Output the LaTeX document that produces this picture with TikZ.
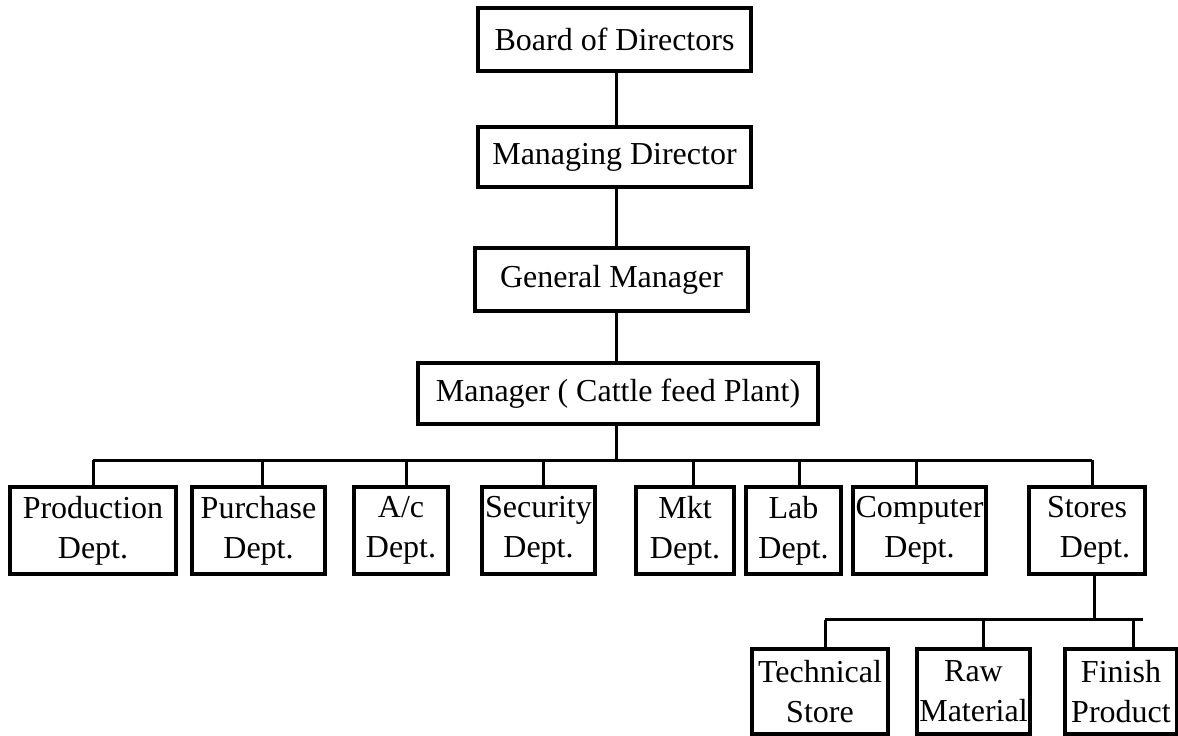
\documentclass[tikz,border=0pt]{standalone}
\usepackage{fontspec}
\setmainfont{Liberation Serif}
\begin{document}
\begin{tikzpicture}[x=1pt,y=-1pt,
  box/.style={draw, line width=3.2pt, inner sep=0pt, align=center,
    font=\fontsize{32}{40}\selectfont},
  link/.style={line width=3pt}]
\useasboundingbox (0,0) rectangle (1178,736);
% top chain
\node[box, minimum width=273pt, minimum height=63pt] (bod) at (614.5,39.5) {Board of Directors};
\node[box, minimum width=273pt, minimum height=60pt] (md) at (614.5,157) {Managing Director};
\node[box, minimum width=273pt, minimum height=63pt] (gm) at (611.5,279.5) {General Manager};
\node[box, minimum width=400pt, minimum height=61pt] (mgr) at (618,393.5) {Manager ( Cattle feed Plant)};
% departments
\node[box, minimum width=166pt, minimum height=87pt] (prod) at (93,530.5) {Production\\Dept.};
\node[box, minimum width=133pt, minimum height=87pt] (purch) at (258.5,530.5) {Purchase\\Dept.};
\node[box, minimum width=94pt, minimum height=87pt] (ac) at (401,530.5) {A/c\\Dept.};
\node[box, minimum width=113pt, minimum height=87pt] (sec) at (538.5,530.5) {Security\\Dept.};
\node[box, minimum width=98pt, minimum height=87pt] (mkt) at (685,530.5) {Mkt\\Dept.};
\node[box, minimum width=95pt, minimum height=87pt] (lab) at (793.5,530.5) {Lab\\Dept.};
\node[box, minimum width=133pt, minimum height=87pt] (comp) at (919.5,530.5) {Computer\\Dept.};
\node[box, minimum width=116pt, minimum height=87pt] (stores) at (1087,530.5) {Stores\\\hspace*{16pt}Dept.};
% stores sub units
\node[box, minimum width=136pt, minimum height=85pt] (tech) at (820,691.5) {Technical\\Store};
\node[box, minimum width=113pt, minimum height=85pt] (raw) at (973.5,691.5) {Raw\\Material};
\node[box, minimum width=112pt, minimum height=85pt] (fin) at (1121,691.5) {Finish\\Product};
% bus coordinates
\coordinate (bus) at (616,460);
\coordinate (subbus) at (1094,619.5);
\coordinate (subend) at (1143,619.5);
% top connectors
\draw[link] ([xshift=1.5pt]md.north) -- ([xshift=1.5pt]md.north |- bod.south);
\draw[link] ([xshift=5pt]gm.north) -- ([xshift=5pt]gm.north |- md.south);
\draw[link] ([xshift=-2pt]mgr.north) -- ([xshift=-2pt]mgr.north |- gm.south);
\draw[link] ([xshift=-2pt]mgr.south) -- (bus);
% department bus
\draw[link] (prod.north |- bus) -- ([xshift=5pt]stores.north |- bus);
\draw[link] (prod.north) -- (prod.north |- bus);
\draw[link] ([xshift=3.5pt]purch.north) -- ([xshift=3.5pt]purch.north |- bus);
\draw[link] ([xshift=5pt]ac.north) -- ([xshift=5pt]ac.north |- bus);
\draw[link] ([xshift=4.5pt]sec.north) -- ([xshift=4.5pt]sec.north |- bus);
\draw[link] ([xshift=8pt]mkt.north) -- ([xshift=8pt]mkt.north |- bus);
\draw[link] ([xshift=5.5pt]lab.north) -- ([xshift=5.5pt]lab.north |- bus);
\draw[link] ([xshift=-3.5pt]comp.north) -- ([xshift=-3.5pt]comp.north |- bus);
\draw[link] ([xshift=5pt]stores.north) -- ([xshift=5pt]stores.north |- bus);
% stores sub bus
\draw[link] ([xshift=7pt]stores.south) -- (subbus);
\draw[link] ([xshift=5pt]tech.north |- subbus) -- (subend);
\draw[link] ([xshift=5pt]tech.north) -- ([xshift=5pt]tech.north |- subbus);
\draw[link] ([xshift=9.5pt]raw.north) -- ([xshift=9.5pt]raw.north |- subbus);
\draw[link] ([xshift=12pt]fin.north) -- ([xshift=12pt]fin.north |- subbus);
\end{tikzpicture}
\end{document}
